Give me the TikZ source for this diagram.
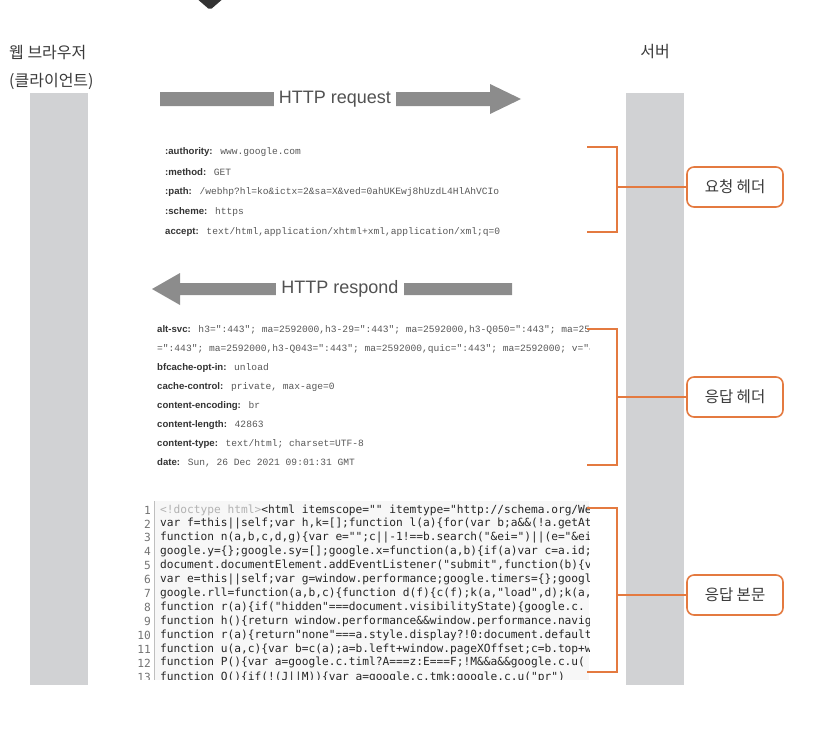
\documentclass[tikz,border=0pt]{standalone}
\usepackage{fontspec}
\setmainfont{Liberation Sans}
\newfontfamily\krfont{Noto Sans CJK KR}
\newfontfamily\codefont{DejaVu Sans Mono}
\newfontfamily\hdrfont{Liberation Mono}
\usetikzlibrary{positioning}
\definecolor{xgrey}{RGB}{209,210,212}
\definecolor{xorange}{RGB}{228,122,64}
\definecolor{xarrow}{RGB}{140,140,140}
\definecolor{xtext}{RGB}{58,58,58}
\newcommand\hkey[1]{{\rmfamily\bfseries\fontsize{9.6}{10}\selectfont\color{black!80}#1}}

\begin{document}
\begin{tikzpicture}[x=1pt,y=-1pt]
\tikzset{who/.style={inner sep=0pt,text=xtext,font=\fontsize{16}{28}\krfont}}
\tikzset{flow/.style={fill=white,inner xsep=5pt,inner ysep=1pt,text=black!68,font=\fontsize{18}{20}\selectfont}}
\tikzset{hdr/.style={anchor=west,inner sep=0pt,text=black!66,font=\fontsize{9.6}{10}\hdrfont}}
\tikzset{code/.style={anchor=west,inner sep=0pt,text=black!85,font=\fontsize{11.2}{13}\codefont}}
\tikzset{num/.style={anchor=east,inner sep=0pt,text=black!55,font=\fontsize{11.2}{13}\codefont}}
\tikzset{bracket/.style={draw=xorange,line width=2.2pt}}
\tikzset{tag/.style={draw=xorange,line width=1.6pt,rounded corners=7pt,fill=white,minimum width=96pt,minimum height=40pt,text=xtext,font=\fontsize{15.5}{18}\krfont}}
\useasboundingbox (0,0) rectangle (816,731);
\fill[black!80,rounded corners=2pt] (195,-3) -- (225,-3) -- (210,10) -- cycle;
\node[who,anchor=west,align=left] at (9,67) (client) {웹 브라우저\\(클라이언트)};
\node[who] at (655,52) (server) {서버};
\fill[xgrey] (30,93) rectangle (88,685);
\fill[xgrey] (626,93) rectangle (684,685);
\fill[xarrow] (160,92) -- (490,92) -- (490,84) -- (521,99) -- (490,114) -- (490,106) -- (160,106) -- cycle;
\node[flow] at (335,99) (req) {HTTP request};
\fill[xarrow] (512,283) -- (180,283) -- (180,273) -- (152,289) -- (180,305) -- (180,295) -- (512,295) -- cycle;
\node[flow] at (340,289) (resp) {HTTP respond};
\begin{scope}
\clip (100,120) rectangle (589,679);
\node[hdr] at (165,152) (rq1) {\hkey{:authority:} www.google.com};
\node[hdr] at (165,172) (rq2) {\hkey{:method:} GET};
\node[hdr] at (165,192) (rq3) {\hkey{:path:} /webhp?hl=ko\&ictx=2\&sa=X\&ved=0ahUKEwj8hUzdL4HlAhVCIo};
\node[hdr] at (165,212) (rq4) {\hkey{:scheme:} https};
\node[hdr] at (165,232) (rq5) {\hkey{accept:} text/html,application/xhtml+xml,application/xml;q=0};
\node[hdr] at (157,330) (rs1) {\hkey{alt-svc:} h3=":443"; ma=2592000,h3-29=":443"; ma=2592000,h3-Q050=":443"; ma=2592000};
\node[hdr] at (157,349) (rs2) {=":443"; ma=2592000,h3-Q043=":443"; ma=2592000,quic=":443"; ma=2592000; v="46,43"};
\node[hdr] at (157,368) (rs3) {\hkey{bfcache-opt-in:} unload};
\node[hdr] at (157,387) (rs4) {\hkey{cache-control:} private, max-age=0};
\node[hdr] at (157,406) (rs5) {\hkey{content-encoding:} br};
\node[hdr] at (157,425) (rs6) {\hkey{content-length:} 42863};
\node[hdr] at (157,444) (rs7) {\hkey{content-type:} text/html; charset=UTF-8};
\node[hdr] at (157,463) (rs8) {\hkey{date:} Sun, 26 Dec 2021 09:01:31 GMT};
\fill[black!3] (154,501) rectangle (589,681);
\draw[black!25] (154,501) -- (154,681);
\node[num] at (151,510.0) (n1) {1};
\node[num] at (151,523.9) (n2) {2};
\node[num] at (151,537.8) (n3) {3};
\node[num] at (151,551.7) (n4) {4};
\node[num] at (151,565.6) (n5) {5};
\node[num] at (151,579.5) (n6) {6};
\node[num] at (151,593.4) (n7) {7};
\node[num] at (151,607.3) (n8) {8};
\node[num] at (151,621.2) (n9) {9};
\node[num] at (151,635.1) (n10) {10};
\node[num] at (151,649.0) (n11) {11};
\node[num] at (151,662.9) (n12) {12};
\node[num] at (151,677.8) (n13) {13};
\node[code] at (160,510.0) (c1) {{\color{black!30}<!doctype html>}<html itemscope="" itemtype="http://schema.org/WebPage"};
\node[code] at (160,523.9) (c2) {var f=this||self;var h,k=[];function l(a)\{for(var b;a\&\&(!a.getAttribute};
\node[code] at (160,537.8) (c3) {function n(a,b,c,d,g)\{var e="";c||-1!==b.search("\&ei=")||(e="\&ei="};
\node[code] at (160,551.7) (c4) {google.y=\{\};google.sy=[];google.x=function(a,b)\{if(a)var c=a.id;};
\node[code] at (160,565.6) (c5) {document.documentElement.addEventListener("submit",function(b)\{var};
\node[code] at (160,579.5) (c6) {var e=this||self;var g=window.performance;google.timers=\{\};google};
\node[code] at (160,593.4) (c7) {google.rll=function(a,b,c)\{function d(f)\{c(f);k(a,"load",d);k(a,};
\node[code] at (160,607.3) (c8) {function r(a)\{if("hidden"===document.visibilityState)\{google.c.};
\node[code] at (160,621.2) (c9) {function h()\{return window.performance\&\&window.performance.navig};
\node[code] at (160,635.1) (c10) {function r(a)\{return"none"===a.style.display?!0:document.default};
\node[code] at (160,649.0) (c11) {function u(a,c)\{var b=c(a);a=b.left+window.pageXOffset;c=b.top+w};
\node[code] at (160,662.9) (c12) {function P()\{var a=google.c.timl?A===z:E===F;!M\&\&a\&\&google.c.u(};
\node[code] at (160,677.8) (c13) {function Q()\{if(!(J||M))\{var a=google.c.tmk;google.c.u("pr")};
\end{scope}
\node[tag] at (735,187) (reqhdr) {요청 헤더};
\node[tag] at (735,397) (resphdr) {응답 헤더};
\node[tag] at (735,595) (respbody) {응답 본문};
\coordinate (rqmid) at (617,187);
\coordinate (rsmid) at (617,397);
\coordinate (bdmid) at (617,595);
\draw[bracket] (587,147) -- (617,147) -- (617,232) -- (587,232);
\draw[bracket] (rqmid) -- (reqhdr);
\draw[bracket] (587,329) -- (617,329) -- (617,465) -- (587,465);
\draw[bracket] (rsmid) -- (resphdr);
\draw[bracket] (587,508) -- (617,508) -- (617,672) -- (587,672);
\draw[bracket] (bdmid) -- (respbody);
\end{tikzpicture}
\end{document}
